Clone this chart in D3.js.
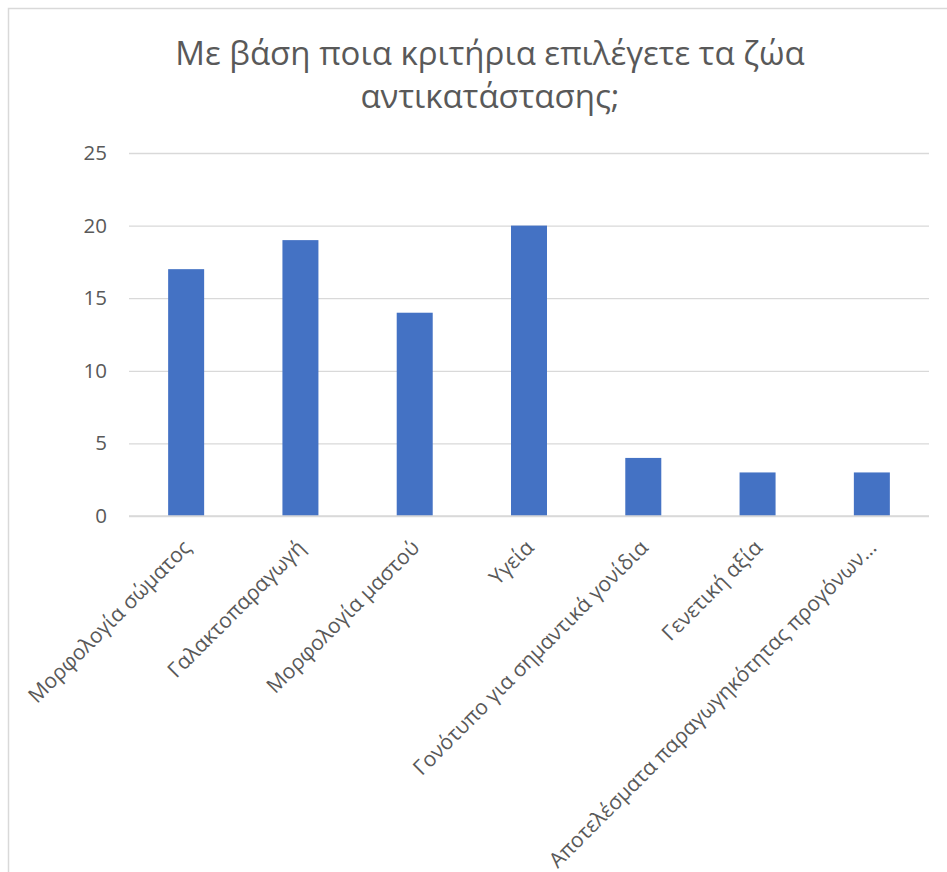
<!DOCTYPE html>
<html>
<head>
<meta charset="utf-8">
<script src="https://cdn.jsdelivr.net/npm/d3@7"></script>
<style>
  html, body { margin: 0; padding: 0; background: #fff; }
  svg { display: block; }
</style>
</head>
<body>
<svg id="chart" width="947" height="872"></svg>
<script>
const titleLines = ["Με βάση ποια κριτήρια επιλέγετε τα ζώα", "αντικατάστασης;"];
const categories = [
  "Μορφολογία σώματος",
  "Γαλακτοπαραγωγή",
  "Μορφολογία μαστού",
  "Υγεία",
  "Γονότυπο για σημαντικά γονίδια",
  "Γενετική αξία",
  "Αποτελέσματα παραγωγηκότητας προγόνων…"
];
const values = [17, 19, 14, 20, 4, 3, 3];
const yTicks = [0, 5, 10, 15, 20, 25];

const svg = d3.select("#chart");
const font = "'Open Sans', 'Noto Sans', sans-serif";
const textColor = "#595959";

// chart border
svg.append("rect")
  .attr("x", 8.5).attr("y", 8.5)
  .attr("width", 960).attr("height", 900)
  .attr("fill", "#fff")
  .attr("stroke", "#d9d9d9").attr("stroke-width", 1.5);

// title
svg.append("g").selectAll("text")
  .data(titleLines)
  .join("text")
  .attr("x", 490)
  .attr("y", (d, i) => 65 + i * 43)
  .attr("text-anchor", "middle")
  .attr("font-family", font)
  .attr("font-size", 33)
  .attr("fill", textColor)
  .text(d => d);

const x = d3.scaleBand()
  .domain(categories)
  .range([129, 929])
  .paddingInner(0.685)
  .paddingOuter(0.3425);

const y = d3.scaleLinear()
  .domain([0, 25])
  .range([516, 153]);

// gridlines
const yAxis = d3.axisLeft(y)
  .tickValues(yTicks)
  .tickSize(-800)
  .tickPadding(22)
  .tickFormat(d3.format("d"));

const gy = svg.append("g")
  .attr("transform", "translate(129,0)")
  .call(yAxis);
gy.select(".domain").remove();
gy.selectAll(".tick line")
  .attr("stroke", "#d9d9d9")
  .attr("stroke-width", 1.3);
gy.selectAll(".tick text")
  .attr("font-family", font)
  .attr("font-size", 20.5)
  .attr("fill", textColor);

// bars
svg.append("g").selectAll("rect")
  .data(values)
  .join("rect")
  .attr("x", (d, i) => x(categories[i]))
  .attr("width", x.bandwidth())
  .attr("y", d => y(d))
  .attr("height", d => y(0) - y(d))
  .attr("fill", "#4472c4");

// baseline over bars
svg.append("line")
  .attr("x1", 129).attr("x2", 929)
  .attr("y1", y(0)).attr("y2", y(0))
  .attr("stroke", "#d9d9d9").attr("stroke-width", 1.3);

// x labels
svg.append("g").selectAll("text")
  .data(categories)
  .join("text")
  .attr("transform", d => `translate(${x(d) + x.bandwidth() / 2 + 6},549) rotate(-45)`)
  .attr("text-anchor", "end")
  .attr("font-family", font)
  .attr("font-size", 21)
  .attr("fill", textColor)
  .text(d => d);
</script>
</body>
</html>
